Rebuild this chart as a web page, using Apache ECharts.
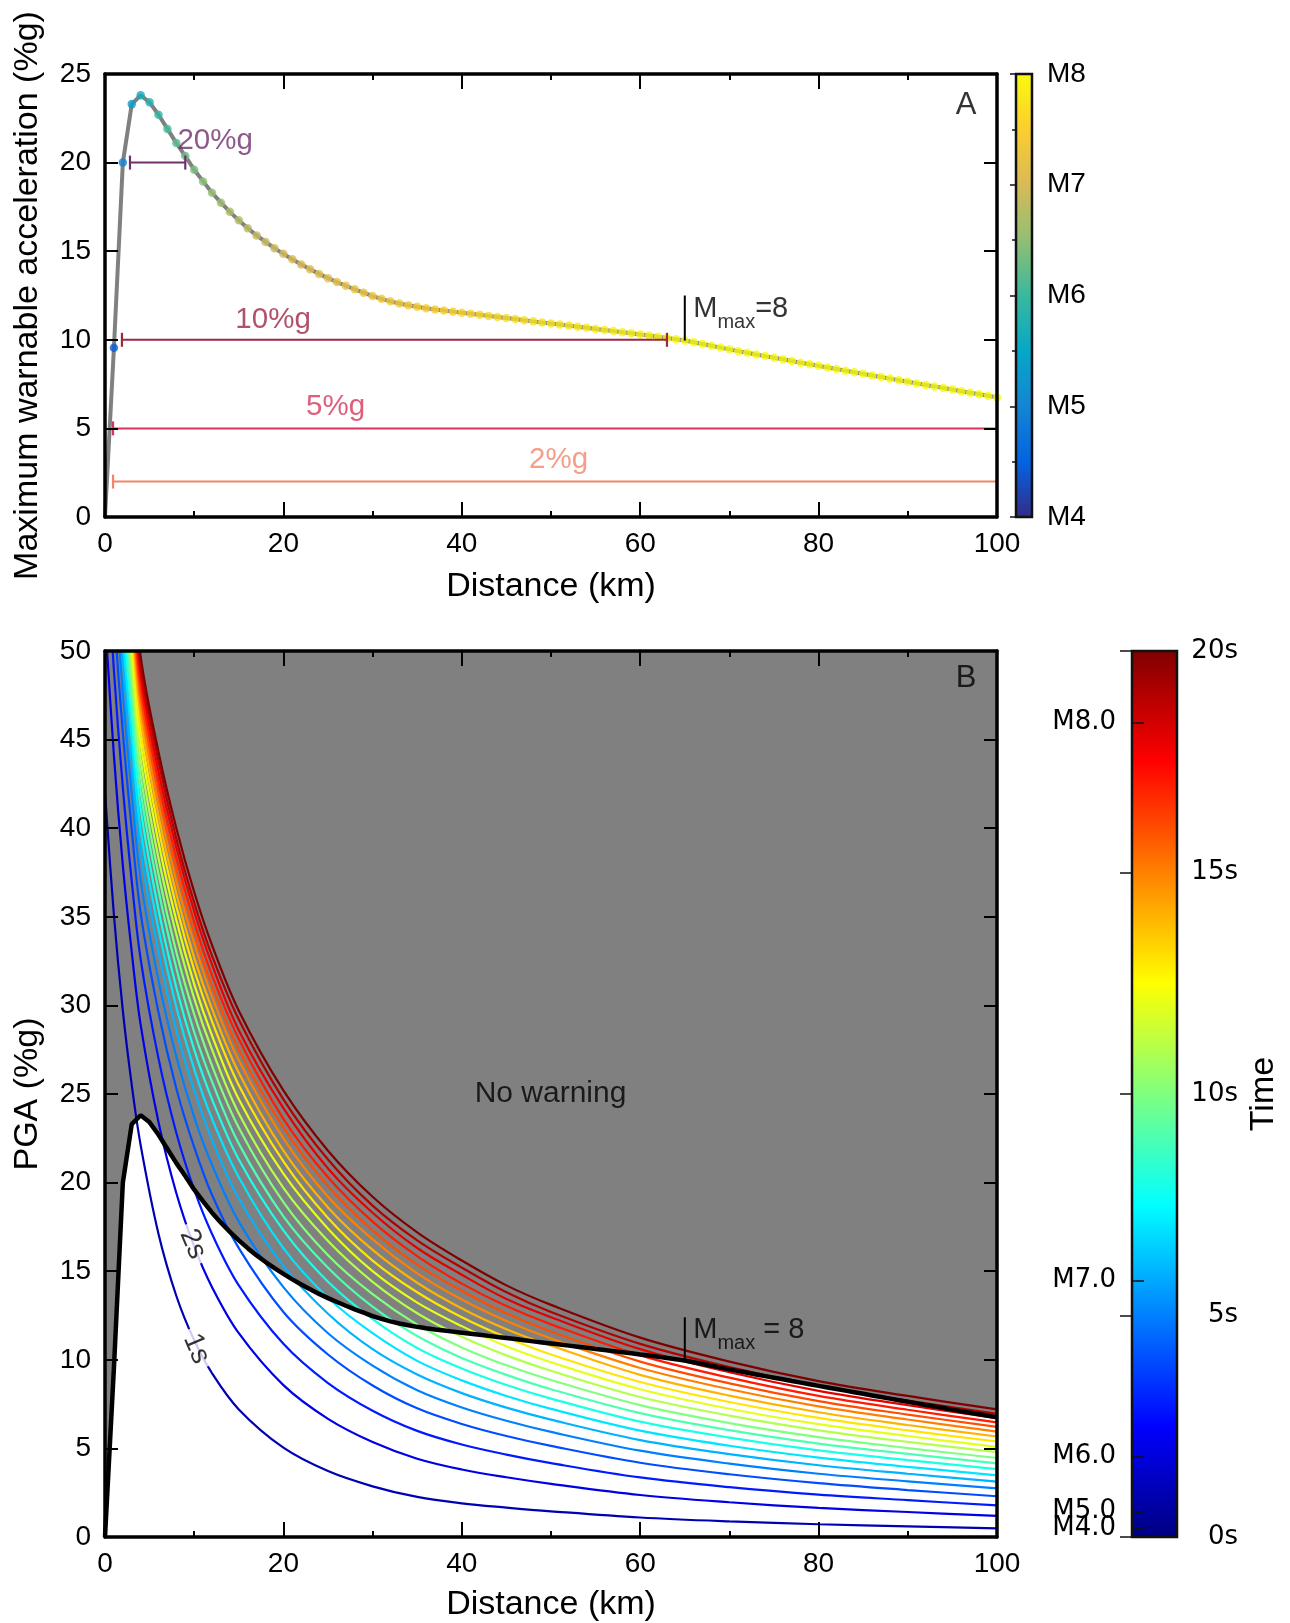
<!DOCTYPE html>
<html><head><meta charset="utf-8">
<script src="https://cdn.jsdelivr.net/npm/echarts@6/dist/echarts.min.js"></script>
<style>html,body{margin:0;padding:0;background:#fff}#c{width:1290px;height:1623px}</style>
</head><body><div id="c"></div>
<script>
// ---------- DATA ----------
// Panel B: PGA (%g) isochrone curves, one per warning time, sampled at DIST (km)
const DIST = [0, 1, 2, 3, 4, 6, 8, 10, 12, 15, 20, 25, 30, 35, 40, 45, 50, 60, 70, 80, 90, 100];
const TIMES = [1, 2, 3, 4, 5, 6, 7, 8, 9, 10, 11, 12, 13, 14, 15, 16, 17, 18, 19, 20];
const T01 = [42, 35.1, 29.7, 25.5, 22.1, 17.1, 13.6, 11.1, 9.24, 7.2, 5.04, 3.72, 2.86, 2.26, 1.9, 1.66, 1.45, 1.1, 0.88, 0.72, 0.6, 0.49];
const T02 = [51.9, 44.1, 37.9, 33.0, 28.9, 23.4, 19.4, 16.4, 14.1, 11.5, 8.57, 6.67, 5.36, 4.42, 3.81, 3.37, 3.0, 2.37, 1.96, 1.64, 1.41, 1.19];
const T03 = [57.2, 48.9, 42.3, 37.0, 32.6, 27.0, 22.8, 19.6, 17.1, 14.2, 10.9, 8.69, 7.13, 5.99, 5.22, 4.65, 4.17, 3.36, 2.81, 2.39, 2.08, 1.78];
const T04 = [60.8, 52.2, 45.4, 39.9, 35.2, 29.6, 25.3, 22.0, 19.3, 16.3, 12.7, 10.3, 8.55, 7.26, 6.38, 5.70, 5.14, 4.19, 3.54, 3.04, 2.65, 2.30];
const T05 = [63.4, 54.6, 47.6, 41.9, 37.1, 31.4, 27.1, 23.7, 21.0, 17.8, 14.1, 11.5, 9.67, 8.28, 7.31, 6.56, 5.93, 4.87, 4.14, 3.57, 3.14, 2.74];
const T06 = [65.5, 56.5, 49.4, 43.6, 38.7, 33.0, 28.6, 25.2, 22.4, 19.1, 15.3, 12.6, 10.6, 9.17, 8.12, 7.30, 6.62, 5.47, 4.68, 4.05, 3.57, 3.13];
const T07 = [67.2, 58.1, 50.8, 45.0, 39.9, 34.3, 29.9, 26.4, 23.6, 20.3, 16.3, 13.5, 11.5, 9.94, 8.84, 7.96, 7.23, 6.00, 5.15, 4.48, 3.96, 3.48];
const T08 = [68.8, 59.5, 52.2, 46.2, 41.1, 35.4, 31.0, 27.5, 24.7, 21.3, 17.3, 14.4, 12.3, 10.67, 9.51, 8.58, 7.81, 6.51, 5.61, 4.89, 4.34, 3.83];
const T09 = [70.1, 60.8, 53.3, 47.3, 42.1, 36.5, 32.1, 28.5, 25.7, 22.2, 18.1, 15.2, 13.0, 11.34, 10.1, 9.15, 8.34, 6.99, 6.03, 5.27, 4.69, 4.15];
const T10 = [71.3, 61.9, 54.4, 48.3, 43.0, 37.4, 33.0, 29.5, 26.6, 23.1, 18.9, 15.9, 13.7, 11.98, 10.7, 9.69, 8.86, 7.44, 6.43, 5.64, 5.02, 4.46];
const T11 = [72.5, 63.0, 55.4, 49.3, 43.9, 38.3, 34.0, 30.4, 27.5, 23.9, 19.7, 16.7, 14.4, 12.63, 11.3, 10.25, 9.38, 7.90, 6.85, 6.02, 5.37, 4.79];
const T12 = [73.6, 64.0, 56.4, 50.2, 44.8, 39.2, 34.8, 31.2, 28.3, 24.7, 20.5, 17.4, 15.0, 13.23, 11.9, 10.76, 9.86, 8.34, 7.24, 6.37, 5.70, 5.09];
const T13 = [74.6, 65.0, 57.3, 51.0, 45.5, 40.0, 35.6, 32.0, 29.1, 25.5, 21.2, 18.0, 15.6, 13.81, 12.4, 11.26, 10.3, 8.75, 7.62, 6.72, 6.02, 5.39];
const T14 = [75.5, 65.8, 58.1, 51.8, 46.3, 40.7, 36.3, 32.7, 29.8, 26.2, 21.8, 18.6, 16.2, 14.35, 12.9, 11.73, 10.8, 9.15, 7.98, 7.04, 6.32, 5.67];
const T15 = [76.4, 66.6, 58.9, 52.5, 46.9, 41.4, 37.0, 33.5, 30.5, 26.9, 22.5, 19.2, 16.8, 14.88, 13.4, 12.19, 11.2, 9.54, 8.34, 7.37, 6.63, 5.95];
const T16 = [77.2, 67.4, 59.5, 53.2, 47.5, 42.0, 37.7, 34.1, 31.1, 27.5, 23.1, 19.8, 17.3, 15.37, 13.9, 12.62, 11.6, 9.90, 8.67, 7.67, 6.91, 6.21];
const T17 = [78.0, 68.1, 60.2, 53.8, 48.1, 42.6, 38.3, 34.7, 31.7, 28.1, 23.6, 20.3, 17.8, 15.85, 14.3, 13.03, 12.0, 10.25, 8.99, 7.96, 7.18, 6.47];
const T18 = [78.7, 68.8, 60.8, 54.4, 48.7, 43.2, 38.9, 35.3, 32.3, 28.6, 24.2, 20.8, 18.3, 16.31, 14.8, 13.43, 12.4, 10.6, 9.30, 8.25, 7.44, 6.71];
const T19 = [79.4, 69.4, 61.4, 55.0, 49.2, 43.8, 39.4, 35.8, 32.8, 29.2, 24.7, 21.3, 18.7, 16.74, 15.2, 13.81, 12.7, 10.9, 9.59, 8.52, 7.70, 6.95];
const T20 = [80, 70, 62, 55.5, 49.7, 44.3, 40.0, 36.4, 33.4, 29.7, 25.2, 21.8, 19.2, 17.19, 15.6, 14.2, 13.1, 11.25, 9.9, 8.8, 7.96, 7.2];
const CURVES = [T01, T02, T03, T04, T05, T06, T07, T08, T09, T10, T11, T12, T13, T14, T15, T16, T17, T18, T19, T20];

// Maximum warnable acceleration (%g) vs distance (km)
const MWA_DIST = [0,1,2,3,4,5,6,7,8,9,10,11,12,13,14,15,16,17,18,19,20,21,22,23,24,25,26,27,28,29,30,31,32,33,34,35,36,37,38,39,40,41,42,43,44,45,46,47,48,49,50,51,52,53,54,55,56,57,58,59,60,61,62,63,64,65,66,67,68,69,70,71,72,73,74,75,76,77,78,79,80,81,82,83,84,85,86,87,88,89,90,91,92,93,94,95,96,97,98,99,100];
const MWA_PGA = [0, 9.55, 20.0, 23.3, 23.8, 23.4, 22.7, 21.9, 21.1, 20.37, 19.6, 18.94, 18.3, 17.74, 17.22, 16.74, 16.3, 15.89, 15.52, 15.17, 14.85, 14.54, 14.25, 13.98, 13.72, 13.48, 13.26, 13.05, 12.85, 12.66, 12.47, 12.31, 12.17, 12.05, 11.95, 11.86, 11.78, 11.71, 11.65, 11.59, 11.53, 11.47, 11.41, 11.35, 11.29, 11.23, 11.17, 11.1, 11.04, 10.98, 10.92, 10.86, 10.8, 10.74, 10.68, 10.61, 10.55, 10.49, 10.43, 10.37, 10.3, 10.24, 10.17, 10.1, 10.03, 9.96, 9.86, 9.76, 9.66, 9.56, 9.46, 9.36, 9.27, 9.17, 9.08, 8.99, 8.9, 8.8, 8.71, 8.62, 8.53, 8.44, 8.35, 8.26, 8.17, 8.08, 7.99, 7.9, 7.81, 7.72, 7.63, 7.54, 7.45, 7.37, 7.28, 7.19, 7.1, 7.01, 6.93, 6.84, 6.75];
// magnitude of each dot (d = 1..100 km)
const MWA_MAG = [4.45, 5.0, 5.35, 5.6, 5.78, 5.94, 6.07, 6.19, 6.29, 6.38, 6.46, 6.54, 6.6, 6.67, 6.73, 6.78, 6.84, 6.89, 6.93, 6.98, 7.02, 7.06, 7.1, 7.14, 7.17, 7.21, 7.24, 7.27, 7.3, 7.33, 7.36, 7.39, 7.41, 7.44, 7.47, 7.49, 7.51, 7.54, 7.56, 7.58, 7.6, 7.62, 7.64, 7.66, 7.68, 7.7, 7.72, 7.74, 7.76, 7.77, 7.79, 7.81, 7.82, 7.84, 7.85, 7.87, 7.88, 7.9, 7.91, 7.93, 7.94, 7.96, 7.97, 7.99, 8, 8, 8, 8, 8, 8, 8, 8, 8, 8, 8, 8, 8, 8, 8, 8, 8, 8, 8, 8, 8, 8, 8, 8, 8, 8, 8, 8, 8, 8, 8, 8, 8, 8, 8, 8];

// Threshold bars in panel A
const THRESH_LEVELS = [20, 10, 5, 2];
const THRESH_LABELS = ['20%g', '10%g', '5%g', '2%g'];
const THRESH_START = [2.8, 1.9, 0.9, 0.9];
const THRESH_END = [9.0, 63.0, 100, 100];

// Colour bar B: magnitude ticks (at time positions)
const CB_M_LABELS = ['M8.0', 'M7.0', 'M6.0', 'M5.0', 'M4.0'];
const CB_M_TIMES = [18.39, 5.79, 1.82, 0.58, 0.19];

// ---------- STYLE ----------
const FONT = "'Liberation Sans', Arial, Helvetica, sans-serif";
const CBFONT = "'DejaVu Sans', 'Liberation Sans', sans-serif";
const THRESH_COLORS = ['#70306c', '#9c2745', '#d8345a', '#f3866a'];
const PARULA = ['#352a87', '#0363e1', '#1485d4', '#06a7c6', '#38b99e', '#92bf73', '#d9ba56', '#fcce2e', '#f9fb0e'];
function jet(f) {
  const c = v => Math.max(0, Math.min(1, v));
  const r = c(1.5 - Math.abs(4 * f - 3)), g = c(1.5 - Math.abs(4 * f - 2)), b = c(1.5 - Math.abs(4 * f - 1));
  return 'rgb(' + Math.round(r * 255) + ',' + Math.round(g * 255) + ',' + Math.round(b * 255) + ')';
}
const jetStops = [];
for (let i = 0; i <= 40; i++) jetStops.push({ offset: i / 40, color: jet(1 - i / 40) });
const parulaStops = PARULA.map((c, i) => ({ offset: 1 - i / (PARULA.length - 1), color: c })).reverse();

function xAx(grid, pos, showLabel, name, gap) {
  return {
    type: 'value', gridIndex: grid, position: pos, min: 0, max: 100, interval: 20, z: 10,
    axisLine: { show: true, onZero: false, lineStyle: { color: '#000', width: 3.5 } },
    axisTick: { show: true, inside: true, length: 15, lineStyle: { color: '#000', width: 2 } },
    minorTick: { show: true, splitNumber: 2, length: 6, lineStyle: { color: '#000', width: 2 } },
    axisLabel: { show: showLabel, fontSize: 28, color: '#000', margin: 13, fontFamily: FONT },
    splitLine: { show: false }, minorSplitLine: { show: false },
    name: name || '', nameLocation: 'middle', nameGap: gap || 0,
    nameTextStyle: { fontSize: 34, color: '#000', fontFamily: FONT }
  };
}
function yAx(grid, pos, max, showLabel, name, gap) {
  return {
    type: 'value', gridIndex: grid, position: pos, min: 0, max: max, interval: 5, z: 10,
    axisLine: { show: true, onZero: false, lineStyle: { color: '#000', width: 3.5 } },
    axisTick: { show: true, inside: true, length: 13, lineStyle: { color: '#000', width: 2 } },
    axisLabel: { show: showLabel, fontSize: 28, color: '#000', margin: 14, fontFamily: FONT },
    splitLine: { show: false },
    name: name || '', nameLocation: 'middle', nameGap: gap || 0,
    nameTextStyle: { fontSize: 34, color: '#000', fontFamily: FONT }
  };
}
function mAxis(vals) {
  return { type: 'value', gridIndex: 3, position: 'left', min: 0, max: 20, z: 10,
    axisLine: { show: false },
    axisTick: { show: true, inside: true, length: 12, customValues: vals, lineStyle: { color: '#111', width: 1.5 } },
    axisLabel: { fontSize: 26, color: '#000', margin: 16, fontFamily: CBFONT, customValues: vals,
      showMinLabel: true, showMaxLabel: true, hideOverlap: false,
      formatter: v => { const k = CB_M_TIMES.indexOf(v); return k >= 0 ? CB_M_LABELS[k] : ''; } },
    splitLine: { show: false } };
}
function note(xi, yi, x, y, text, lab) {
  return {
    type: 'scatter', xAxisIndex: xi, yAxisIndex: yi, symbolSize: 1, silent: true, z: 8,
    itemStyle: { color: 'rgba(0,0,0,0)' }, data: [[x, y]],
    label: Object.assign({ show: true, position: [0, 0], align: 'center', verticalAlign: 'middle',
      formatter: text, fontFamily: FONT, fontSize: 29.5, color: '#000' }, lab || {})
  };
}
const mmaxRich = {
  m: { fontSize: 29, fontFamily: FONT, color: '#000', lineHeight: 32, padding: [0, 0, 9, 0], verticalAlign: 'bottom' },
  s: { fontSize: 20, fontFamily: FONT, color: '#000', lineHeight: 20, verticalAlign: 'bottom' }
};

// ---------- SERIES ----------
const series = [];
// Panel A
series.push({ type: 'line', xAxisIndex: 0, yAxisIndex: 0, data: MWA_DIST.map((d, i) => [d, MWA_PGA[i]]),
  symbol: 'none', lineStyle: { color: '#808080', width: 4 }, z: 2, silent: true });
const dotsIdx = series.length;
series.push({ type: 'scatter', xAxisIndex: 0, yAxisIndex: 0, symbolSize: 8.5, z: 3, silent: true,
  data: MWA_DIST.slice(1).map((d, i) => [d, MWA_PGA[i + 1], MWA_MAG[i]]) });
THRESH_LEVELS.forEach((lvl, k) => {
  series.push({ type: 'line', xAxisIndex: 0, yAxisIndex: 0, z: 4, silent: true,
    lineStyle: { color: THRESH_COLORS[k], width: 2 }, itemStyle: { color: THRESH_COLORS[k] },
    data: [
      { value: [THRESH_START[k], lvl], symbol: 'rect', symbolSize: [2.2, 14] },
      { value: [THRESH_END[k], lvl], symbol: THRESH_END[k] < 100 ? 'rect' : 'none', symbolSize: [2.2, 14] }
    ] });
});
series.push({ type: 'line', xAxisIndex: 0, yAxisIndex: 0, symbol: 'none', z: 4, silent: true,
  lineStyle: { color: '#000', width: 2 }, data: [[65, 9.96], [65, 12.5]] });
series.push(note(0, 0, 12.4, 21.2, THRESH_LABELS[0], { color: THRESH_COLORS[0] }));
series.push(note(0, 0, 18.9, 11.1, THRESH_LABELS[1], { color: THRESH_COLORS[1] }));
series.push(note(0, 0, 25.9, 6.2, THRESH_LABELS[2], { color: THRESH_COLORS[2] }));
series.push(note(0, 0, 50.9, 3.2, THRESH_LABELS[3], { color: THRESH_COLORS[3] }));
series.push(note(0, 0, 96.6, 23.2, 'A', { fontSize: 31 }));
series.push(note(0, 0, 66.0, 11.3, '{m|M}{s|max}{m|=8}', { align: 'left', rich: mmaxRich }));

// Panel B
series.push({ type: 'line', xAxisIndex: 2, yAxisIndex: 2, data: MWA_DIST.map((d, i) => [d, MWA_PGA[i]]),
  symbol: 'none', lineStyle: { width: 0 }, areaStyle: { color: '#ffffff', opacity: 1 }, z: 1, silent: true });
CURVES.forEach((arr, k) => {
  series.push({ type: 'line', xAxisIndex: 2, yAxisIndex: 2, symbol: 'none', smooth: 0.35, silent: true, z: 2,
    lineStyle: { color: jet(TIMES[k] / 20), width: 2.2 }, data: DIST.map((d, i) => [d, arr[i]]) });
});
series.push({ type: 'line', xAxisIndex: 2, yAxisIndex: 2, data: MWA_DIST.map((d, i) => [d, MWA_PGA[i]]),
  symbol: 'none', lineStyle: { color: '#000', width: 4.5 }, z: 4, silent: true });
series.push({ type: 'line', xAxisIndex: 2, yAxisIndex: 2, symbol: 'none', z: 4, silent: true,
  lineStyle: { color: '#000', width: 2 }, data: [[65, 9.96], [65, 12.4]] });
series.push(note(2, 2, 96.6, 48.4, 'B', { fontSize: 31 }));
series.push(note(2, 2, 50.0, 25.0, 'No warning', { fontSize: 30 }));
series.push(note(2, 2, 66.0, 11.25, '{m|M}{s|max}{m| = 8}', { align: 'left', rich: mmaxRich }));
series.push(note(2, 2, 9.9, 16.5, '2s', { fontSize: 28, rotate: -67, backgroundColor: '#fff', padding: [0, 6] }));
series.push(note(2, 2, 10.3, 10.6, '1s', { fontSize: 28, rotate: -67, backgroundColor: '#fff', padding: [0, 6] }));

const option = {
  backgroundColor: '#fff',
  animation: false,
  grid: [
    { left: 105, top: 74, width: 892, height: 443, show: true, backgroundColor: '#fff', borderWidth: 0, outerBoundsMode: 'none', containLabel: false },
    { left: 105, top: 651, width: 892, height: 886, show: true, backgroundColor: '#808080', borderWidth: 0, outerBoundsMode: 'none', containLabel: false },
    { left: 1016, top: 74, width: 16, height: 443, show: true, borderColor: '#111', borderWidth: 2.5, outerBoundsMode: 'none', containLabel: false,
      backgroundColor: { type: 'linear', x: 0, y: 0, x2: 0, y2: 1, colorStops: parulaStops } },
    { left: 1132, top: 651, width: 45, height: 886, show: true, borderColor: '#111', borderWidth: 2.5, outerBoundsMode: 'none', containLabel: false,
      backgroundColor: { type: 'linear', x: 0, y: 0, x2: 0, y2: 1, colorStops: jetStops } }
  ],
  xAxis: [
    xAx(0, 'bottom', true, 'Distance (km)', 53),
    xAx(0, 'top', false),
    xAx(1, 'bottom', true, 'Distance (km)', 51),
    xAx(1, 'top', false),
    { type: 'value', gridIndex: 2, show: false, min: 0, max: 1 },
    { type: 'value', gridIndex: 3, show: false, min: 0, max: 1 }
  ],
  yAxis: [
    yAx(0, 'left', 25, true, 'Maximum warnable acceleration (%g)', 60),
    yAx(0, 'right', 25, false),
    yAx(1, 'left', 50, true, 'PGA (%g)', 60),
    yAx(1, 'right', 50, false),
    { type: 'value', gridIndex: 2, position: 'right', min: 4, max: 8, interval: 1, z: 10,
      axisLine: { show: false },
      axisTick: { show: true, inside: true, length: 6, lineStyle: { color: '#111', width: 1.5 } },
      minorTick: { show: true, splitNumber: 2, length: 4, lineStyle: { color: '#111', width: 1.5 } },
      axisLabel: { fontSize: 28, color: '#000', margin: 15, fontFamily: FONT, formatter: v => 'M' + v },
      splitLine: { show: false }, minorSplitLine: { show: false } },
    { type: 'value', gridIndex: 3, position: 'right', min: 0, max: 20, interval: 5, z: 10,
      axisLine: { show: false },
      axisTick: { show: true, inside: true, length: 12, lineStyle: { color: '#111', width: 1.5 } },
      axisLabel: { fontSize: 26, color: '#000', margin: 61, align: 'right', fontFamily: CBFONT, formatter: v => v + 's' },
      splitLine: { show: false },
      name: 'Time', nameLocation: 'middle', nameRotate: 90, nameGap: 70,
      nameTextStyle: { fontSize: 34, color: '#000', fontFamily: FONT } },
    mAxis(CB_M_TIMES.slice(0, 4)),
    mAxis(CB_M_TIMES.slice(4))
  ],
  visualMap: [{ type: 'continuous', show: false, seriesIndex: dotsIdx, dimension: 2, min: 4, max: 8,
    inRange: { color: PARULA } }],
  series: series
};
const chart = echarts.init(document.getElementById('c'), null, { renderer: 'canvas' });
chart.setOption(option);
</script></body></html>
